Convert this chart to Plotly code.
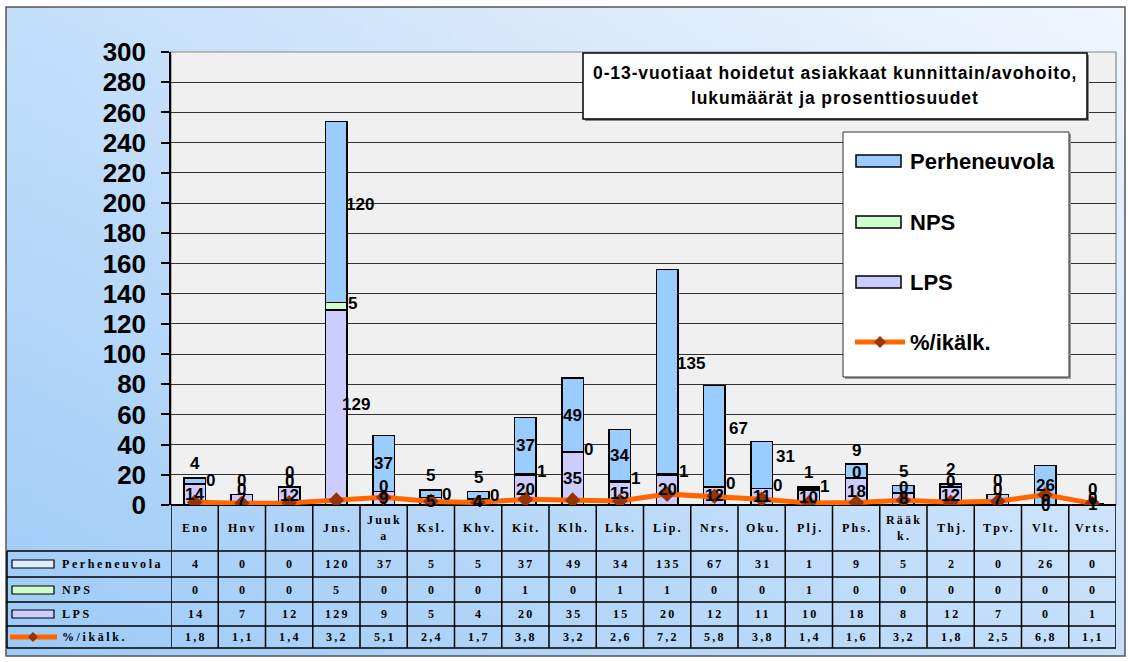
import base64
import struct
import zlib

import plotly.graph_objects as go

# ---- data -----------------------------------------------------------------
categories = ["Eno", "Hnv", "Ilom", "Jns.", "Juuka", "Ksl.", "Khv.", "Kit.", "Klh.", "Lks.",
              "Lip.", "Nrs.", "Oku.", "Plj.", "Phs.", "Rääkk.", "Thj.", "Tpv.", "Vlt.", "Vrts."]
header_labels = ["Eno", "Hnv", "Ilom", "Jns.", "Juuk<br>a", "Ksl.", "Khv.", "Kit.", "Klh.", "Lks.",
                 "Lip.", "Nrs.", "Oku.", "Plj.", "Phs.", "Rääk<br>k.", "Thj.", "Tpv.", "Vlt.", "Vrts."]
perheneuvola = [4, 0, 0, 120, 37, 5, 5, 37, 49, 34, 135, 67, 31, 1, 9, 5, 2, 0, 26, 0]
nps = [0, 0, 0, 5, 0, 0, 0, 1, 0, 1, 1, 0, 0, 1, 0, 0, 0, 0, 0, 0]
lps = [14, 7, 12, 129, 9, 5, 4, 20, 35, 15, 20, 12, 11, 10, 18, 8, 12, 7, 0, 1]
pct_age = [1.8, 1.1, 1.4, 3.2, 5.1, 2.4, 1.7, 3.8, 3.2, 2.6, 7.2, 5.8, 3.8, 1.4, 1.6, 3.2, 1.8, 2.5, 6.8, 1.1]
pct_text = ["1,8", "1,1", "1,4", "3,2", "5,1", "2,4", "1,7", "3,8", "3,2", "2,6",
            "7,2", "5,8", "3,8", "1,4", "1,6", "3,2", "1,8", "2,5", "6,8", "1,1"]

title_lines = ["0-13-vuotiaat hoidetut asiakkaat kunnittain/avohoito,", "lukumäärät ja prosenttiosuudet"]
series_names = ["Perheneuvola", "NPS", "LPS", "%/ikälk."]

# ---- styling --------------------------------------------------------------
C_PERH = "#99CCFF"
C_NPS = "#CCFFCC"
C_LPS = "#CCCCFF"
C_LINE = "#FF6600"
C_MARK = "#993300"
SANS = "Liberation Sans, Arial, sans-serif"
SERIF = "Liberation Serif, Times New Roman, serif"

# data labels that sit beside the bar instead of inside / above it
PERH_RIGHT = {"Jns.", "Lip.", "Nrs.", "Oku."}
NPS_RIGHT = {"Eno", "Jns.", "Ksl.", "Khv.", "Kit.", "Klh.", "Lks.", "Lip.", "Nrs.", "Oku.", "Plj."}
LPS_RIGHT = {"Jns."}

W, H = 1128, 662
PL, PR, PT, PB = 171, 1116, 52, 505  # plot area in pixels


def fx(px):
    return (px - PL) / (PR - PL)


def fy(py):
    return (PB - py) / (PB - PT)


def gradient_png(w, h, c_tl, c_tr, c_bl, c_br):
    rows = []
    for j in range(h):
        ty = j / (h - 1)
        row = bytearray([0])
        for i in range(w):
            tx = i / (w - 1)
            for k in range(3):
                top = c_tl[k] * (1 - tx) + c_tr[k] * tx
                bot = c_bl[k] * (1 - tx) + c_br[k] * tx
                row.append(int(round(top * (1 - ty) + bot * ty)))
        rows.append(bytes(row))
    raw = b"".join(rows)

    def chunk(tag, data):
        return (struct.pack(">I", len(data)) + tag + data
                + struct.pack(">I", zlib.crc32(tag + data) & 0xFFFFFFFF))

    png = (b"\x89PNG\r\n\x1a\n"
           + chunk(b"IHDR", struct.pack(">IIBBBBB", w, h, 8, 2, 0, 0, 0))
           + chunk(b"IDAT", zlib.compress(raw))
           + chunk(b"IEND", b""))
    return "data:image/png;base64," + base64.b64encode(png).decode()


def note(x, y, text, font, xref="paper", yref="paper", xanchor="center", **kw):
    return dict(x=x, y=y, xref=xref, yref=yref, text=text, showarrow=False, font=font,
                xanchor=xanchor, yanchor="middle", **kw)


def spaced(txt, sp=2.2):
    return f"<span style='letter-spacing:{sp}px'>{txt}</span>"


xs = list(range(len(categories)))
fig = go.Figure()

bar_line = dict(color="black", width=1.5)
fig.add_trace(go.Bar(x=xs, y=lps, name=series_names[2], marker=dict(color=C_LPS, line=bar_line), width=0.45))
fig.add_trace(go.Bar(x=xs, y=nps, name=series_names[1], marker=dict(color=C_NPS, line=bar_line), width=0.45))
fig.add_trace(go.Bar(x=xs, y=perheneuvola, name=series_names[0], marker=dict(color=C_PERH, line=bar_line), width=0.45))
fig.add_trace(go.Scatter(x=xs, y=pct_age, name=series_names[3], mode="lines+markers",
                         line=dict(color=C_LINE, width=5),
                         marker=dict(symbol="diamond", size=12, color=C_MARK)))

annotations = []
shapes = []
lab_font = dict(family=SANS, size=17, color="black", weight="bold")

# ---- data labels ----------------------------------------------------------
for i, cat in enumerate(categories):
    l, n, p = lps[i], nps[i], perheneuvola[i]
    # LPS
    dx = 20 if cat in LPS_RIGHT else 0
    annotations.append(note(i, l / 2, str(l), lab_font, "x", "y", xshift=dx, yshift=3 if dx else 0))
    # NPS
    if cat in NPS_RIGHT:
        annotations.append(note(i, l + n / 2, str(n), lab_font, "x", "y", xshift=16, yshift=3))
    else:
        annotations.append(note(i, l + n, str(n), lab_font, "x", "y", yshift=5))
    # Perheneuvola
    if p < 10:
        annotations.append(note(i, l + n + p, str(p), lab_font, "x", "y", yshift=14))
    elif cat in PERH_RIGHT:
        annotations.append(note(i, l + n + p / 2, str(p), lab_font, "x", "y", xshift=24, yshift=8))
    else:
        annotations.append(note(i, l + n + p / 2, str(p), lab_font, "x", "y"))

# ---- title box ------------------------------------------------------------
shapes.append(dict(type="rect", xref="paper", yref="paper", x0=fx(585), x1=fx(1089), y0=fy(121), y1=fy(55),
                   fillcolor="#888888", line=dict(width=0), layer="above"))
shapes.append(dict(type="rect", xref="paper", yref="paper", x0=fx(583), x1=fx(1087), y0=fy(119), y1=fy(53),
                   fillcolor="white", line=dict(color="black", width=1.5), layer="above"))
for k, txt in enumerate(title_lines):
    annotations.append(note(fx(835), fy(73 + 25 * k), spaced(txt, 0.9),
                            dict(family=SANS, size=17.5, color="black", weight="bold")))

# ---- legend box -----------------------------------------------------------
shapes.append(dict(type="rect", xref="paper", yref="paper", x0=fx(845), x1=fx(1071), y0=fy(379), y1=fy(134),
                   fillcolor="#999999", line=dict(width=0), layer="above"))
shapes.append(dict(type="rect", xref="paper", yref="paper", x0=fx(843), x1=fx(1069), y0=fy(377), y1=fy(132),
                   fillcolor="white", line=dict(color="#333333", width=1), layer="above"))
leg_rows = [161, 222, 282, 342]
for col, ry in zip([C_PERH, C_NPS, C_LPS], leg_rows[:3]):
    shapes.append(dict(type="rect", xref="paper", yref="paper", x0=fx(856), x1=fx(901),
                       y0=fy(ry + 6), y1=fy(ry - 6), fillcolor=col,
                       line=dict(color="black", width=1.5), layer="above"))
for name, ry in zip(series_names, leg_rows):
    annotations.append(note(fx(908), fy(ry), name,
                            dict(family=SANS, size=22, color="black", weight="bold"), xanchor="left"))
shapes.append(dict(type="line", xref="paper", yref="paper", x0=fx(855), x1=fx(905), y0=fy(342), y1=fy(342),
                   line=dict(color=C_LINE, width=5), layer="above"))


def diamond(cx, cy, r):
    return (f"M {fx(cx)},{fy(cy - r)} L {fx(cx + r)},{fy(cy)} L {fx(cx)},{fy(cy + r)} "
            f"L {fx(cx - r)},{fy(cy)} Z")


shapes.append(dict(type="path", xref="paper", yref="paper", path=diamond(880, 342, 6),
                   fillcolor=C_MARK, line=dict(width=0), layer="above"))

# ---- data table -----------------------------------------------------------
row_lines = [551, 577, 602, 626, 648]
row_mid = [564, 590, 614, 637]
tbl_line = dict(color="black", width=1.5)
for ry in row_lines:
    shapes.append(dict(type="line", xref="paper", yref="paper", x0=fx(7), x1=1, y0=fy(ry), y1=fy(ry),
                       line=tbl_line))
shapes.append(dict(type="line", xref="paper", yref="paper", x0=fx(7), x1=fx(7), y0=fy(551), y1=fy(648),
                   line=tbl_line))
for i in range(len(categories) + 1):
    shapes.append(dict(type="line", xref="x", yref="paper", x0=i - 0.5, x1=i - 0.5, y0=0, y1=fy(648),
                       line=tbl_line))

tbl_font = dict(family=SERIF, size=12, color="black", weight="bold")
for i, lab in enumerate(header_labels):
    annotations.append(note(i, fy(528), spaced(lab), tbl_font, "x", "paper", xshift=1))
rows_vals = [[str(v) for v in perheneuvola], [str(v) for v in nps], [str(v) for v in lps], pct_text]
for vals, ry in zip(rows_vals, row_mid):
    for i, v in enumerate(vals):
        annotations.append(note(i, fy(ry), spaced(v), tbl_font, "x", "paper", xshift=1))
# legend keys in the table
for col, ry in zip(["#DDEEFC", C_NPS, C_LPS], row_mid[:3]):
    shapes.append(dict(type="rect", xref="paper", yref="paper", x0=fx(12), x1=fx(54),
                       y0=fy(ry + 4), y1=fy(ry - 4), fillcolor=col, line=dict(color="black", width=1.2)))
shapes.append(dict(type="line", xref="paper", yref="paper", x0=fx(10), x1=fx(57), y0=fy(637), y1=fy(637),
                   line=dict(color=C_LINE, width=5)))
shapes.append(dict(type="path", xref="paper", yref="paper", path=diamond(33, 637, 5),
                   fillcolor=C_MARK, line=dict(width=0)))
for name, ry in zip(series_names, row_mid):
    annotations.append(note(fx(60), fy(ry), spaced(name, 2.6), tbl_font, xanchor="left"))

# ---- background -----------------------------------------------------------
bg = gradient_png(64, 64, (196, 223, 250), (240, 246, 253), (158, 203, 247), (196, 223, 250))
images = [dict(source=bg, xref="paper", yref="paper", x=fx(6), y=fy(7), sizex=fx(1125) - fx(6),
               sizey=fy(7) - fy(656), xanchor="left", yanchor="top", sizing="stretch", layer="below")]
# plot area backdrop on top of the gradient
shapes.insert(0, dict(type="rect", xref="paper", yref="paper", x0=0, x1=1, y0=0, y1=1,
                      fillcolor="#F0F0F0", line=dict(color="#888888", width=1.2), layer="below"))
# outer frame
shapes.append(dict(type="rect", xref="paper", yref="paper", x0=fx(6), x1=fx(1125), y0=fy(656), y1=fy(7),
                   line=dict(color="#555555", width=1.5), layer="below"))

fig.update_layout(
    width=W, height=H,
    margin=dict(l=PL, r=W - PR, t=PT, b=H - PB),
    barmode="stack",
    showlegend=False,
    paper_bgcolor="white",
    plot_bgcolor="rgba(0,0,0,0)",
    annotations=annotations,
    shapes=shapes,
    images=images,
    xaxis=dict(range=[-0.5, len(categories) - 0.5], showticklabels=False, showgrid=False,
               zeroline=False, ticks="", showline=False, fixedrange=True),
    yaxis=dict(range=[0, 300], dtick=20, showgrid=True, gridcolor="#333333", gridwidth=1,
               zeroline=True, zerolinecolor="black", zerolinewidth=2,
               showline=True, linecolor="black", linewidth=1.5,
               ticks="outside", ticklen=8, tickcolor="black", tickwidth=1.5,
               tickfont=dict(family=SANS, size=26, color="black", weight="bold"),
               ticklabelstandoff=10, fixedrange=True),
)

fig.write_html("out.html")
